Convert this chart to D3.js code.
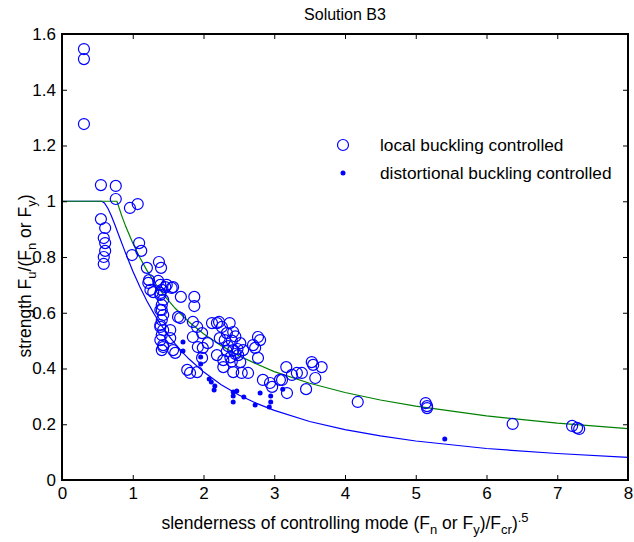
<!DOCTYPE html>
<html lang="en">
	<head>
		<meta charset="utf-8">
		<title>Solution B3</title>
		<script type="text/javascript" src="https://cdn.jsdelivr.net/npm/d3@7"></script>
		<style type="text/css">
			body { margin: 0; background: #fff; }
			text { font-family: Arial, "Liberation Sans", sans-serif; fill: #000; }
		</style>
	</head>
	<body>
		<script type="text/javascript">

			//Width and height
			var w = 634;
			var h = 542;

			//tick labels
			var xTicks = [0, 1, 2, 3, 4, 5, 6, 7, 8];
			var yTicks = [0, 0.2, 0.4, 0.6, 0.8, 1, 1.2, 1.4, 1.6];
			var yTickLabels = ["0", "0.2", "0.4", "0.6", "0.8", "1", "1.2", "1.4", "1.6"];

			//local buckling controlled tests: [slenderness, strength]
			var localPts = [
				[0.31,1.546],[0.31,1.510],[0.31,1.277],
				[0.55,1.058],[0.76,1.055],[0.76,1.008],[0.96,0.976],[1.07,0.990],
				[0.55,0.936],[0.61,0.904],[0.59,0.868],[0.61,0.850],[0.61,0.822],[0.59,0.800],[0.59,0.775],
				[1.09,0.850],[1.12,0.822],[0.99,0.807],[1.20,0.761],[1.37,0.782],[1.40,0.761],
				[1.23,0.717],[1.36,0.714],[1.46,0.692],[1.55,0.689],[1.29,0.674],[1.39,0.671],[1.68,0.657],[1.87,0.657],[1.87,0.624],
				[1.22,0.707],[1.25,0.682],[1.48,0.700],[1.57,0.692],
				[1.39,0.700],[1.41,0.682],[1.39,0.664],[1.43,0.646],[1.41,0.628],[1.39,0.610],[1.43,0.592],[1.41,0.574],
				[1.39,0.556],[1.43,0.538],[1.41,0.520],[1.39,0.502],[1.43,0.484],[1.41,0.466],[1.39,0.549],[1.41,0.610],
				[1.64,0.585],[1.67,0.581],[1.85,0.567],[1.91,0.549],[1.98,0.527],[1.53,0.538],[1.53,0.509],[1.57,0.466],
				[1.43,0.477],[1.60,0.456],[1.85,0.513],[1.92,0.477],
				[2.19,0.563],[2.22,0.567],[2.26,0.549],[2.37,0.563],[2.33,0.527],[2.42,0.531],[2.23,0.509],[2.30,0.502],
				[2.52,0.491],[2.77,0.513],[2.80,0.502],[2.42,0.466],[2.49,0.448],[2.70,0.484],[2.73,0.474],[2.19,0.448],
				[2.28,0.430],[2.28,0.405],[2.42,0.387],[2.54,0.384],[2.63,0.384],[2.77,0.438],[2.84,0.359],[2.94,0.348],
				[2.97,0.334],[3.08,0.359],[1.99,0.474],[1.98,0.438],[2.56,0.466],[2.52,0.423],[2.06,0.491],[1.77,0.395],
				[1.81,0.384],[1.91,0.387],[2.12,0.563],
				[2.35,0.480],[2.40,0.500],[2.45,0.452],[2.38,0.440],[2.45,0.515],[2.33,0.462],[2.40,0.425],[2.48,0.470],
				[3.17,0.405],[3.11,0.359],[3.18,0.312],[3.25,0.377],[3.32,0.384],[3.39,0.384],[3.53,0.423],[3.55,0.413],
				[3.67,0.405],[3.58,0.366],[3.45,0.326],
				[4.18,0.280],[5.14,0.276],[5.16,0.265],[5.16,0.258],[6.37,0.201],[7.21,0.194],[7.28,0.187],[7.31,0.183]
			];

			//distortional buckling controlled tests
			var distPts = [
				[1.71,0.495],[1.71,0.463],[1.96,0.441],[1.96,0.416],[2.08,0.362],[2.11,0.352],[2.16,0.337],
				[2.15,0.323],[2.42,0.316],[2.47,0.319],[2.42,0.301],[2.57,0.298],[2.42,0.280],[2.73,0.269],
				[2.80,0.312],[2.93,0.262],[2.95,0.301],[2.95,0.280],[3.12,0.326],[5.41,0.147]
			];

			//design curves
			var localCurveX = [0, 0.776, 0.85, 0.9, 1.0, 1.1, 1.2, 1.3, 1.4, 1.5, 1.6, 1.7, 1.8, 2.0, 2.25, 2.5, 2.75, 3.0, 3.5, 4.0, 4.5, 5, 6, 7, 8];
			var localCurveY = [1, 1, 0.944, 0.910, 0.850, 0.798, 0.752, 0.712, 0.677, 0.645, 0.616, 0.590, 0.566, 0.525, 0.482, 0.446, 0.416, 0.389, 0.347, 0.314, 0.287, 0.265, 0.230, 0.204, 0.184];
			var distCurveX = [0, 0.561, 0.6, 0.65, 0.7, 0.75, 0.8, 0.9, 1.0, 1.1, 1.2, 1.3, 1.4, 1.5, 1.6, 1.7, 1.8, 2.0, 2.25, 2.5, 2.75, 3.0, 3.5, 4.0, 4.5, 5, 6, 7, 8];
			var distCurveY = [1, 1, 0.994, 0.974, 0.946, 0.914, 0.880, 0.813, 0.750, 0.693, 0.642, 0.597, 0.556, 0.520, 0.488, 0.459, 0.433, 0.388, 0.342, 0.305, 0.275, 0.250, 0.210, 0.181, 0.158, 0.140, 0.113, 0.095, 0.081];

			var padL = 62, padR = 628, padT = 34, padB = 480;
			var xScale, yScale;

			let svg = d3.select("body")
						.append("svg")
						.attr("width", w)
						.attr("height", h);

			setScale();
			makeChart();
			setAxis();
			makeLegend();

			function setScale(){
				xScale = d3.scaleLinear()
					.domain([0, 8])
					.range([padL, padR]);

				yScale = d3.scaleLinear()
					.domain([0, 1.6])
					.range([padB, padT]);
			};

			function setAxis(){
				//MATLAB style: ticks inside on all four sides
				let xAxisB = d3.axisBottom(xScale).tickValues(xTicks).tickSizeInner(-5).tickSizeOuter(0).tickFormat(d3.format("d"));
				let xAxisT = d3.axisTop(xScale).tickValues(xTicks).tickSizeInner(-5).tickSizeOuter(0).tickFormat("");
				let yAxisL = d3.axisLeft(yScale).tickValues(yTicks).tickSizeInner(-5).tickSizeOuter(0)
								.tickFormat(function(d, i){ return yTickLabels[i]; });
				let yAxisR = d3.axisRight(yScale).tickValues(yTicks).tickSizeInner(-5).tickSizeOuter(0).tickFormat("");

				var gb = svg.append("g").attr("transform", "translate(0," + padB + ")").call(xAxisB);
				var gt = svg.append("g").attr("transform", "translate(0," + padT + ")").call(xAxisT);
				var gl = svg.append("g").attr("transform", "translate(" + padL + ",0)").call(yAxisL);
				var gr = svg.append("g").attr("transform", "translate(" + padR + ",0)").call(yAxisR);

				[gb, gt, gl, gr].forEach(function(g){
					g.select(".domain").remove();
					g.selectAll(".tick line").attr("stroke", "#000").attr("stroke-width", 1);
					g.selectAll(".tick text").style("font-size", "17px").attr("fill", "#000");
				});
				gb.selectAll(".tick text").attr("y", 7).attr("dy", "0.71em");
				gl.selectAll(".tick text").attr("x", -6);

				//the box
				svg.append("rect")
					.attr("x", padL)
					.attr("y", padT)
					.attr("width", padR - padL)
					.attr("height", padB - padT)
					.attr("fill", "none")
					.attr("stroke", "#000")
					.attr("stroke-width", 2);

				svg.append("text")
					.attr("x", (padL + padR) / 2)
					.attr("y", 20)
					.attr("text-anchor", "middle")
					.style("font-size", "16px")
					.text("Solution B3");

				//x label with sub and superscripts
				var xl = svg.append("text")
					.attr("x", (padL + padR) / 2)
					.attr("y", 529)
					.attr("text-anchor", "middle")
					.style("font-size", "17.5px");
				xl.append("tspan").text("slenderness of controlling mode (F");
				xl.append("tspan").attr("dy", 5).style("font-size", "13px").text("n");
				xl.append("tspan").attr("dy", -5).text(" or F");
				xl.append("tspan").attr("dy", 5).style("font-size", "13px").text("y");
				xl.append("tspan").attr("dy", -5).text(")/F");
				xl.append("tspan").attr("dy", 5).style("font-size", "13px").text("cr");
				xl.append("tspan").attr("dy", -5).text(")");
				xl.append("tspan").attr("dy", -7).style("font-size", "13px").text(".5");

				var yl = svg.append("text")
					.attr("transform", "translate(31,276) rotate(-90)")
					.attr("text-anchor", "middle")
					.style("font-size", "17.5px");
				yl.append("tspan").text("strength F");
				yl.append("tspan").attr("dy", 5).style("font-size", "13px").text("u");
				yl.append("tspan").attr("dy", -5).text("/(F");
				yl.append("tspan").attr("dy", 5).style("font-size", "13px").text("n");
				yl.append("tspan").attr("dy", -5).text(" or F");
				yl.append("tspan").attr("dy", 5).style("font-size", "13px").text("y");
				yl.append("tspan").attr("dy", -5).text(")");
			};

			function makeChart(){
				var line = d3.line()
					.x(function(d){ return xScale(d[0]); })
					.y(function(d){ return yScale(d[1]); });

				var greenData = localCurveX.map(function(x, i){ return [x, localCurveY[i]]; });
				var blueData = distCurveX.map(function(x, i){ return [x, distCurveY[i]]; });

				svg.append("path")
					.datum(blueData)
					.attr("d", line)
					.attr("fill", "none")
					.attr("stroke", "#0000ff")
					.attr("stroke-width", 1.2);

				svg.append("path")
					.datum(greenData)
					.attr("d", line)
					.attr("fill", "none")
					.attr("stroke", "#008000")
					.attr("stroke-width", 1.2);

				svg.selectAll("circle.local")
					.data(localPts)
					.enter()
					.append("circle")
					.attr("class", "local")
					.attr("cx", function(d){ return xScale(d[0]); })
					.attr("cy", function(d){ return yScale(d[1]); })
					.attr("r", 5.5)
					.attr("fill", "none")
					.attr("stroke", "#0000ff")
					.attr("stroke-width", 1.2);

				svg.selectAll("circle.dist")
					.data(distPts)
					.enter()
					.append("circle")
					.attr("class", "dist")
					.attr("cx", function(d){ return xScale(d[0]); })
					.attr("cy", function(d){ return yScale(d[1]); })
					.attr("r", 2.5)
					.attr("fill", "#0000ff");
			};

			function makeLegend(){
				svg.append("circle")
					.attr("cx", 343).attr("cy", 145).attr("r", 5.5)
					.attr("fill", "none").attr("stroke", "#0000ff").attr("stroke-width", 1.2);
				svg.append("circle")
					.attr("cx", 343).attr("cy", 173).attr("r", 2.5)
					.attr("fill", "#0000ff");
				svg.append("text").attr("x", 380).attr("y", 151).style("font-size", "17.3px").text("local buckling controlled");
				svg.append("text").attr("x", 380).attr("y", 179).style("font-size", "17.3px").text("distortional buckling controlled");
			};

		</script>
	</body>
</html>
